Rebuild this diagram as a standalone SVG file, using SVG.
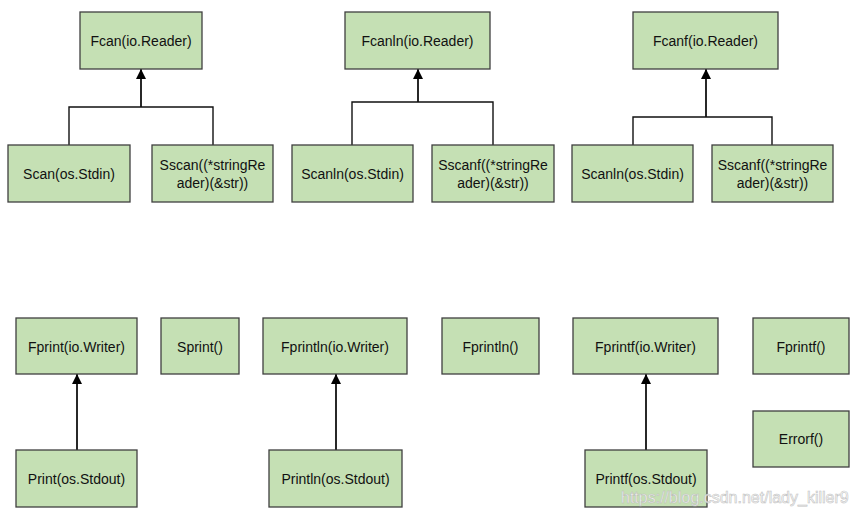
<svg xmlns="http://www.w3.org/2000/svg" width="858" height="517" viewBox="0 0 858 517">
<defs>
<marker id="ah" viewBox="0 0 10 10" refX="10" refY="5" markerWidth="10" markerHeight="10" markerUnits="userSpaceOnUse" orient="auto">
<path d="M0,0 L10,5 L0,10 z" fill="#000"/>
</marker>
<style>
.n rect{fill:#c5e0b4;stroke:#3f3f3f;stroke-width:1.3}
.n text{font-family:"Liberation Sans",Arial,sans-serif;font-size:14px;fill:#111;text-anchor:middle;dominant-baseline:central}
.c{fill:none;stroke:#111;stroke-width:1.4}
.ca{fill:none;stroke:#111;stroke-width:1.8;marker-end:url(#ah)}
.wm{font-family:"Liberation Sans",Arial,sans-serif;font-size:16px;fill:#fff;stroke:#bbb;stroke-width:0.6;opacity:0.9}
</style>
</defs>
<rect width="858" height="517" fill="#fff"/>
<g id="connectors">
<path class="c" d="M69,145 V107 H213 V145"/>
<path class="ca" d="M141,107 V69"/>
<path class="c" d="M352,145 V102 H493 V145"/>
<path class="ca" d="M418,102 V69"/>
<path class="c" d="M633,145 V117 H772 V145"/>
<path class="ca" d="M706,117 V69"/>
<path class="ca" d="M77,450 V374"/>
<path class="ca" d="M336,450 V374"/>
<path class="ca" d="M646,450 V374"/>
</g>
<g id="fcan" class="n"><rect x="80" y="12" width="122" height="57"/><text x="141" y="40.5">Fcan(io.Reader)</text></g>
<g id="scan" class="n"><rect x="8" y="145" width="122" height="57"/><text x="69" y="173.5">Scan(os.Stdin)</text></g>
<g id="sscan" class="n"><rect x="152" y="145" width="121" height="57"/><text x="212.5" y="165">Sscan((*stringRe</text><text x="212.5" y="183">ader)(&amp;str))</text></g>
<g id="fcanln" class="n"><rect x="345" y="12" width="145" height="57"/><text x="417.5" y="40.5">Fcanln(io.Reader)</text></g>
<g id="scanln1" class="n"><rect x="292" y="145" width="121" height="57"/><text x="352.5" y="173.5">Scanln(os.Stdin)</text></g>
<g id="sscanf1" class="n"><rect x="432" y="145" width="122" height="57"/><text x="493" y="165">Sscanf((*stringRe</text><text x="493" y="183">ader)(&amp;str))</text></g>
<g id="fcanf" class="n"><rect x="633" y="12" width="145" height="57"/><text x="705.5" y="40.5">Fcanf(io.Reader)</text></g>
<g id="scanln2" class="n"><rect x="572" y="145" width="121" height="57"/><text x="632.5" y="173.5">Scanln(os.Stdin)</text></g>
<g id="sscanf2" class="n"><rect x="712" y="145" width="121" height="57"/><text x="772.5" y="165">Sscanf((*stringRe</text><text x="772.5" y="183">ader)(&amp;str))</text></g>
<g id="fprint" class="n"><rect x="16" y="318" width="121" height="56"/><text x="76.5" y="346.5">Fprint(io.Writer)</text></g>
<g id="sprint" class="n"><rect x="161" y="318" width="78" height="56"/><text x="200" y="346.5">Sprint()</text></g>
<g id="print" class="n"><rect x="16" y="450" width="121" height="57"/><text x="76.5" y="478.5">Print(os.Stdout)</text></g>
<g id="fprintln" class="n"><rect x="263" y="318" width="144" height="56"/><text x="335" y="346.5">Fprintln(io.Writer)</text></g>
<g id="fprintln2" class="n"><rect x="442" y="318" width="97" height="56"/><text x="490.5" y="346.5">Fprintln()</text></g>
<g id="println" class="n"><rect x="269" y="450" width="133" height="57"/><text x="335.5" y="478.5">Println(os.Stdout)</text></g>
<g id="fprintf" class="n"><rect x="573" y="318" width="145" height="56"/><text x="645.5" y="346.5">Fprintf(io.Writer)</text></g>
<g id="fprintf2" class="n"><rect x="753" y="318" width="96" height="56"/><text x="801" y="346.5">Fprintf()</text></g>
<g id="errorf" class="n"><rect x="753" y="411" width="96" height="56"/><text x="801" y="439">Errorf()</text></g>
<g id="printf" class="n"><rect x="585" y="450" width="122" height="57"/><text x="646" y="478.5">Printf(os.Stdout)</text></g>
<text class="wm" x="621" y="503">https://blog.csdn.net/lady_killer9</text>
</svg>
